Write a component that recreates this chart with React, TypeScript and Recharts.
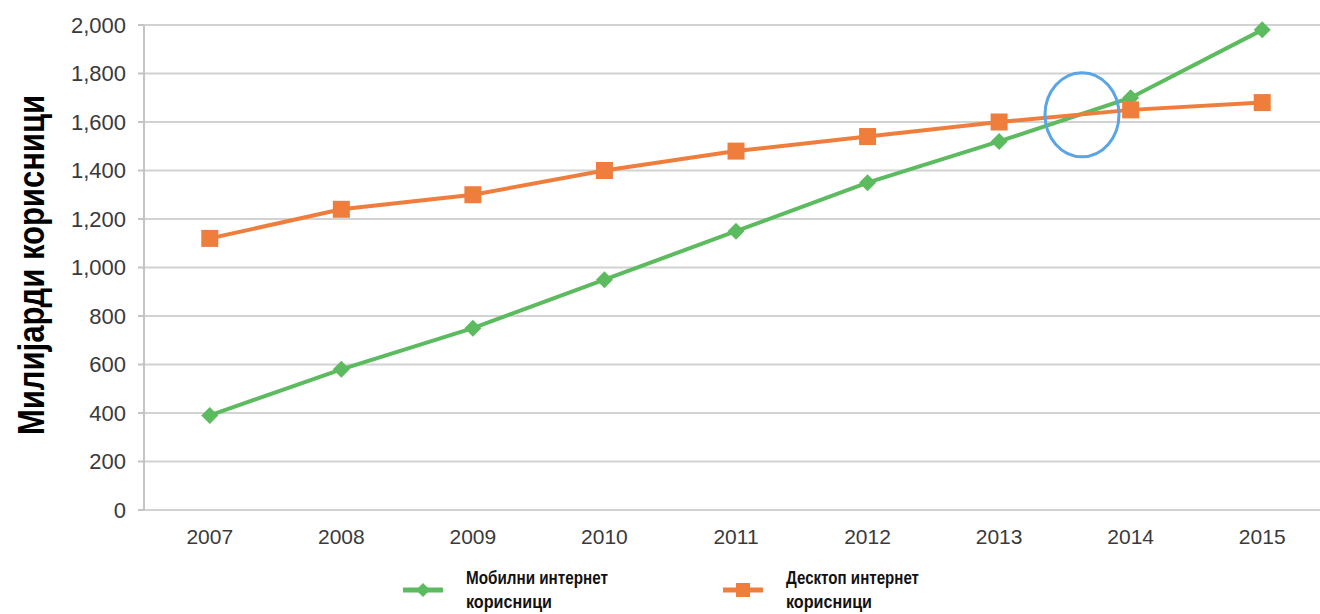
import React from "react";
import { LineChart, Line, XAxis, YAxis, CartesianGrid, ReferenceDot } from "recharts";

const years = [2007, 2008, 2009, 2010, 2011, 2012, 2013, 2014, 2015];
const mobileUsers = [390, 580, 750, 950, 1150, 1350, 1520, 1700, 1980];
const desktopUsers = [1120, 1240, 1300, 1400, 1480, 1540, 1600, 1650, 1680];
const yTicks = [0, 200, 400, 600, 800, 1000, 1200, 1400, 1600, 1800, 2000];
const boundaryTicks = [2006.5, 2007.5, 2008.5, 2009.5, 2010.5, 2011.5, 2012.5, 2013.5, 2014.5, 2015.5];
const crossing = { year: 2013.63, value: 1630 };
const yTitle = "Милијарди корисници";
const mobileName = ["Мобилни интернет", "корисници"];
const desktopName = ["Десктоп интернет", "корисници"];

const data = years.map((y, i) => ({ year: y, mobile: mobileUsers[i], desktop: desktopUsers[i] }));

const GREEN = "#5dbb5f";
const ORANGE = "#ef7d3c";
const GRID = "#d2d2d2";
const TICK_COLOR = "#3a3a3a";
const NARROW = "'Liberation Sans Narrow', 'Liberation Sans', Arial, sans-serif";

const Diamond = (props: any) => {
  const { cx, cy } = props;
  if (cx == null || cy == null) return null;
  const s = 8.5;
  return <path d={`M${cx},${cy - s}L${cx + s},${cy}L${cx},${cy + s}L${cx - s},${cy}Z`} fill={GREEN} />;
};
const Square = (props: any) => {
  const { cx, cy } = props;
  if (cx == null || cy == null) return null;
  const s = 8.5;
  return <rect x={cx - s} y={cy - s} width={2 * s} height={2 * s} fill={ORANGE} />;
};

const LegendItem = ({ left, kind, lines, widths }: { left: number; kind: "diamond" | "square"; lines: string[]; widths: number[] }) => (
  <svg style={{ position: "absolute", left, top: 556 }} width={260} height={58}>
    <line x1={3} y1={34} x2={43} y2={34} stroke={kind === "diamond" ? GREEN : ORANGE} strokeWidth={5} />
    {kind === "diamond" ? (
      <path d="M23,27L30,34L23,41L16,34Z" fill={GREEN} />
    ) : (
      <rect x={16} y={27} width={14} height={14} fill={ORANGE} />
    )}
    {lines.map((t, i) => (
      <text
        key={i}
        x={66}
        y={28 + i * 24}
        fontFamily={NARROW}
        fontWeight={700}
        fontSize={18}
        fill="#111"
        textLength={widths[i]}
        lengthAdjust="spacingAndGlyphs"
      >
        {t}
      </text>
    ))}
  </svg>
);

export default function App() {
  return (
    <div style={{ position: "fixed", left: 0, top: 0, width: 1320, height: 614, overflow: "hidden", background: "#fff" }}>
      <LineChart width={1340} height={614} data={data} margin={{ top: 25, right: 12, bottom: 64, left: 0 }}>
        <CartesianGrid horizontal vertical={false} stroke={GRID} strokeWidth={2} xAxisId="marks" />
        <XAxis
          xAxisId="marks"
          dataKey="year"
          type="number"
          domain={[2006.5, 2015.5]}
          ticks={boundaryTicks}
          tickFormatter={() => ""}
          height={0}
          tickSize={6}
          stroke="#c4c4c4"
          strokeWidth={2}
          interval={0}
          allowDataOverflow
        />
        <XAxis
          xAxisId="labels"
          dataKey="year"
          type="number"
          domain={[2006.5, 2015.5]}
          ticks={years}
          axisLine={false}
          tickLine={false}
          tickSize={0}
          tickMargin={19}
          height={40}
          interval={0}
          tick={{ fill: TICK_COLOR, fontSize: 21, fontFamily: "'Liberation Sans', Arial, sans-serif" }}
          allowDataOverflow
        />
        <YAxis
          type="number"
          domain={[0, 2000]}
          ticks={yTicks}
          interval={0}
          width={144}
          tickSize={6}
          tickMargin={12}
          stroke="#c4c4c4"
          strokeWidth={2}
          tickFormatter={(v: number) => v.toLocaleString("en-US")}
          tick={{ fill: TICK_COLOR, fontSize: 22, fontFamily: "'Liberation Sans', Arial, sans-serif" }}
          label={{
            content: () => (
              <text
                x={31}
                y={265}
                transform="rotate(-90 31 265)"
                textAnchor="middle"
                dominantBaseline="central"
                fill="#000"
                fontSize={37}
                fontWeight={700}
                fontFamily={NARROW}
                textLength={340}
                lengthAdjust="spacingAndGlyphs"
              >
                {yTitle}
              </text>
            ),
          }}
        />
        <Line
          xAxisId="marks"
          dataKey="mobile"
          stroke={GREEN}
          strokeWidth={4}
          dot={<Diamond />}
          activeDot={false}
          isAnimationActive={false}
        />
        <Line
          xAxisId="marks"
          dataKey="desktop"
          stroke={ORANGE}
          strokeWidth={4}
          dot={<Square />}
          activeDot={false}
          isAnimationActive={false}
        />
        <ReferenceDot
          xAxisId="marks"
          x={crossing.year}
          y={crossing.value}
          r={40}
          shape={(p: any) => (
            <ellipse cx={p.cx} cy={p.cy} rx={37} ry={42} fill="none" stroke="#5aa5e6" strokeWidth={3} />
          )}
        />
      </LineChart>
      <LegendItem left={400} kind="diamond" lines={mobileName} widths={[142, 86]} />
      <LegendItem left={720} kind="square" lines={desktopName} widths={[133, 86]} />
    </div>
  );
}
